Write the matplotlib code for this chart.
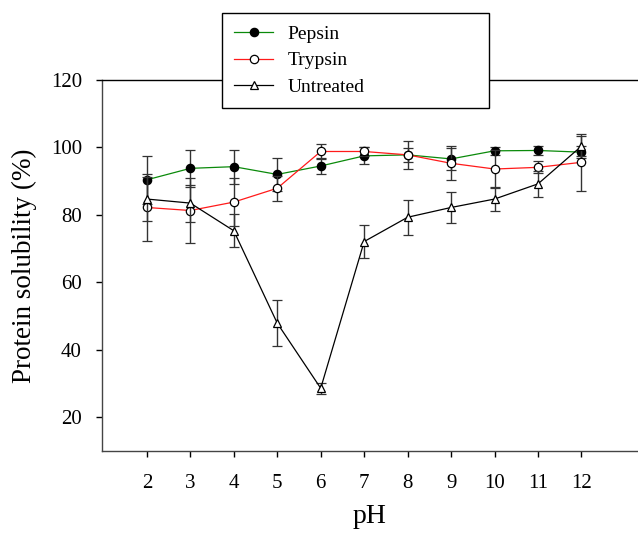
import matplotlib
matplotlib.use("Agg")
import matplotlib.pyplot as plt
from matplotlib.lines import Line2D

ph = [2, 3, 4, 5, 6, 7, 8, 9, 10, 11, 12]
pepsin = [90.4, 93.8, 94.3, 92.0, 94.5, 97.5, 97.8, 96.6, 99.0, 99.1, 98.6]
pepsin_err = [7.2, 5.5, 5.0, 5.0, 2.3, 2.5, 2.0, 3.2, 1.2, 1.4, 1.8]
trypsin = [82.2, 81.3, 83.8, 87.9, 98.8, 98.8, 97.8, 95.3, 93.6, 94.1, 95.6]
trypsin_err = [9.8, 9.7, 7.0, 3.7, 2.1, 1.4, 4.2, 5.0, 5.7, 1.8, 8.4]
untreated = [84.7, 83.5, 75.3, 47.9, 28.6, 72.1, 79.3, 82.2, 84.7, 89.2, 100.4]
untreated_err = [6.4, 5.5, 4.9, 6.9, 1.6, 5.0, 5.2, 4.7, 3.5, 3.8, 3.0]
labels = ['Pepsin', 'Trypsin', 'Untreated']

plt.rcParams['font.family'] = ['Liberation Serif', 'DejaVu Serif']

fig = plt.figure(figsize=(6.38, 5.39), dpi=100)
ax = fig.add_axes([0.16, 0.1633, 0.84, 0.6883])

ecol = '#333333'
common = dict(capsize=3.5, elinewidth=1.0, capthick=1.0, ecolor=ecol,
              markersize=6, markeredgewidth=0.9, linewidth=0.9)

styles = [
    dict(color='#0a8a0a', marker='o', markerfacecolor='black', markeredgecolor='black'),
    dict(color='#ff1a1a', marker='o', markerfacecolor='white', markeredgecolor='black'),
    dict(color='black', marker='^', markerfacecolor='white', markeredgecolor='black'),
]
series = [(pepsin, pepsin_err), (trypsin, trypsin_err), (untreated, untreated_err)]

handles = []
for i, ((vals, errs), st, lab) in enumerate(zip(series, styles, labels)):
    ax.errorbar(ph, vals, yerr=errs, zorder=3 + i, **st, **common)
    handles.append(Line2D([], [], linewidth=0.9, markersize=6,
                          markeredgewidth=0.9, label=lab, **st))

ax.set_xlim(0.97, 13.3)
ax.set_ylim(10, 120)
ax.set_xticks(ph)
ax.set_yticks([20, 40, 60, 80, 100, 120])
ax.tick_params(axis='both', direction='out', length=4, width=1, labelsize=15,
               colors='black')
ax.tick_params(axis='x', pad=12.5)
ax.tick_params(axis='y', pad=10.6)

ax.spines['right'].set_visible(False)
for s in ['left', 'bottom', 'top']:
    ax.spines[s].set_linewidth(1.0)
    ax.spines[s].set_color('black')
ax.spines['left'].set_color('#444444')
ax.spines['bottom'].set_color('#444444')

ax.set_xlabel('pH', fontsize=20, labelpad=8)
ax.set_ylabel('Protein solubility (%)', fontsize=19.5, labelpad=10)

leg = ax.legend(handles=handles, loc='upper left',
                bbox_to_anchor=(0.348, 0.80, 0.418, 0.176),
                bbox_transform=fig.transFigure, mode='expand', borderaxespad=0,
                fontsize=14, frameon=True, fancybox=False, framealpha=1,
                edgecolor='black', handlelength=2.0, handletextpad=0.75,
                labelspacing=0.46, borderpad=0.63)
leg.get_frame().set_linewidth(1.0)
leg.set_zorder(10)

fig.savefig('out.png', dpi=100)
